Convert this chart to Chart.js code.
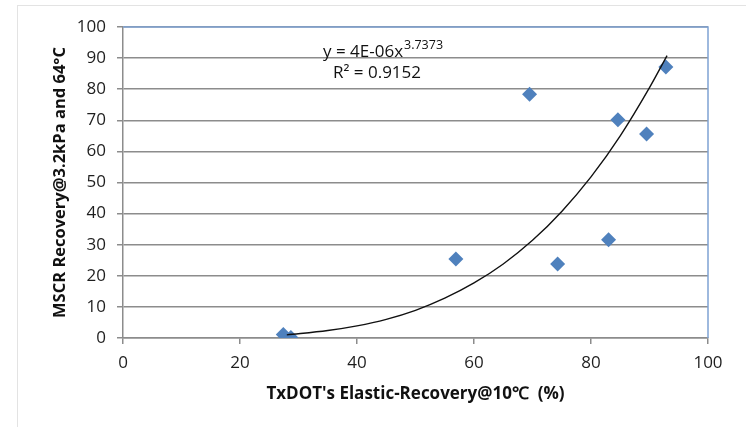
<!DOCTYPE html>
<html>
<head>
<meta charset="utf-8">
<script src="https://cdn.jsdelivr.net/npm/chart.js@4.4.1/dist/chart.umd.min.js"></script>
<style>
  html,body{margin:0;padding:0;background:#fff;}
  #wrap{position:relative;width:746px;height:427px;overflow:hidden;}
  #frame{position:absolute;left:17px;top:5px;width:760px;height:440px;border:1px solid #e3e3e3;box-sizing:border-box;}
  canvas{position:absolute;left:0;top:0;}
</style>
</head>
<body>
<div id="wrap">
  <div id="frame"></div>
  <canvas id="c" width="746" height="427"></canvas>
</div>
<script>
// elastic recovery (x) vs MSCR recovery (y)
const erX   = [27.4, 28.7, 56.9, 69.5, 74.3, 83.0, 84.6, 89.5, 92.8];
const mscrY = [1.1, 0.2, 25.4, 78.4, 23.8, 31.6, 70.2, 65.6, 87.1];

// power trendline, points
const trendX = [28, 35, 40, 45, 50, 55, 60, 65, 70, 75, 80, 85, 90, 93];
const trendY = [1.0, 2.4, 3.9, 6.0, 8.9, 12.8, 17.7, 23.8, 31.4, 40.7, 51.8, 65.0, 80.5, 90.8];

const xTicks = [0, 20, 40, 60, 80, 100];
const yTicks = [0, 10, 20, 30, 40, 50, 60, 70, 80, 90, 100];

const FONT = "'Open Sans', 'Liberation Sans', sans-serif";
const pts = (xs, ys) => xs.map((x, i) => ({x, y: ys[i]}));

// blue top/right frame of the plot area + equation text
const extras = {
  id: 'extras',
  beforeDatasetsDraw(chart){
    const {ctx, chartArea: a} = chart;
    ctx.save();
    ctx.strokeStyle = '#7fa3d3';
    ctx.lineWidth = 1.5;
    ctx.beginPath();
    ctx.moveTo(a.left, a.top); ctx.lineTo(a.right, a.top); ctx.lineTo(a.right, a.bottom);
    ctx.stroke();
    ctx.restore();
  },
  afterDraw(chart){
    const {ctx, chartArea: a} = chart;
    ctx.save();
    ctx.fillStyle = '#111';
    ctx.textBaseline = 'alphabetic';
    ctx.font = `17px ${FONT}`;
    const x0 = a.left + 200, y0 = a.top + 30;
    ctx.fillText('y = 4E-06x', x0, y0);
    const w = ctx.measureText('y = 4E-06x').width;
    ctx.font = `12.5px ${FONT}`;
    ctx.fillText('3.7373', x0 + w + 1, y0 - 8);
    ctx.font = `17px ${FONT}`;
    ctx.fillText('R² = 0.9152', x0 + 10, y0 + 21);
    ctx.restore();
  }
};

new Chart(document.getElementById('c'), {
  type: 'scatter',
  data: {
    datasets: [
      {
        label: 'MSCR',
        data: pts(erX, mscrY),
        pointStyle: 'rectRot',
        pointRadius: 7.5,
        pointHoverRadius: 7.5,
        backgroundColor: '#4f81bd',
        borderColor: '#4f81bd',
        borderWidth: 0,
        order: 2
      },
      {
        label: 'Power trend',
        type: 'line',
        data: pts(trendX, trendY),
        showLine: true,
        fill: false,
        borderColor: '#111',
        borderWidth: 1.4,
        pointRadius: 0,
        cubicInterpolationMode: 'monotone',
        order: 1
      }
    ]
  },
  options: {
    responsive: false,
    animation: false,
    layout: {padding: {left: 0, top: 27, right: 38, bottom: 0}},
    plugins: {legend: {display: false}, tooltip: {enabled: false}},
    scales: {
      x: {
        type: 'linear', min: 0, max: 100,
        afterBuildTicks: s => { s.ticks = xTicks.map(v => ({value: v})); },
        afterFit: s => { s.height = 89; },
        grid: {drawOnChartArea: false, drawTicks: true, tickLength: 6, color: '#8c8c8c', lineWidth: 1.5},
        border: {color: '#8c8c8c', width: 1.5},
        ticks: {color: '#1e1e1e', font: {family: FONT, size: 17}, padding: 9},
        title: {display: true, text: "TxDOT's Elastic-Recovery@10℃  (%)", color: '#111',
                font: {family: FONT, size: 17, weight: 'bold'}, padding: {top: 0, bottom: 23}}
      },
      y: {
        type: 'linear', min: 0, max: 100,
        afterBuildTicks: s => { s.ticks = yTicks.map(v => ({value: v})); },
        afterFit: s => { s.width = 123; },
        grid: {color: '#8c8c8c', lineWidth: 1.5, drawTicks: true, tickLength: 6},
        border: {color: '#8c8c8c', width: 1.5},
        ticks: {color: '#1e1e1e', font: {family: FONT, size: 17}, padding: 11},
        title: {display: true, text: 'MSCR Recovery@3.2kPa and 64°C', color: '#111',
                font: {family: FONT, size: 16.5, weight: 'bold'}, padding: {top: 50, bottom: 0}}
      }
    }
  },
  plugins: [extras]
});
</script>
</body>
</html>
